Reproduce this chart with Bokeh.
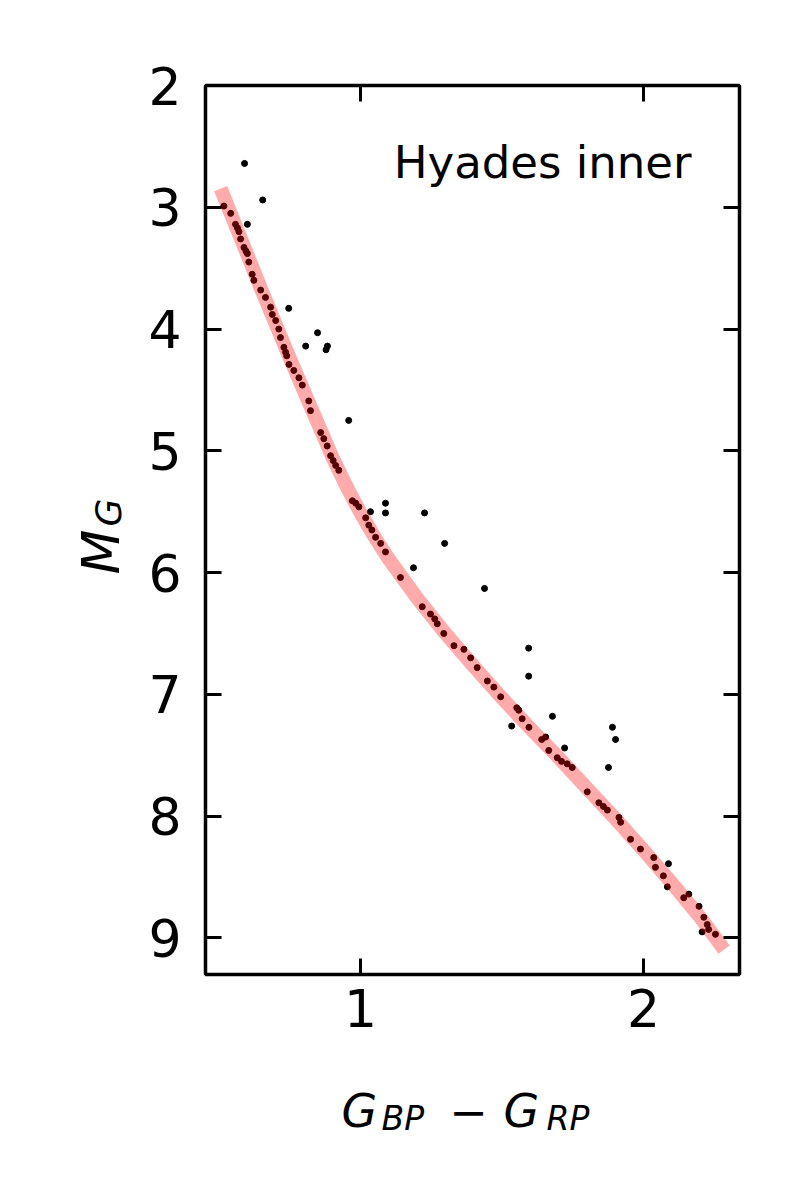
import math
from bokeh.plotting import figure
from bokeh.models import Range1d, LinearAxis, FixedTicker, Label, CustomJSTickFormatter
from bokeh.embed import file_html
from bokeh.resources import INLINE

# ---- data ----
star_x = [0.517, 0.541, 0.558, 0.565, 0.570, 0.576, 0.588, 0.595, 0.600, 0.605, 0.617, 0.623,
          0.647, 0.664, 0.682, 0.688, 0.700, 0.711, 0.717, 0.729, 0.735, 0.739, 0.747, 0.764,
          0.782, 0.794, 0.817, 0.823, 0.859, 0.870, 0.882, 0.894, 0.903, 0.912, 0.923, 0.971,
          0.983, 0.994, 1.018, 1.029, 1.040, 1.053, 1.071, 1.088, 1.141, 1.218, 1.247, 1.262,
          1.271, 1.294, 1.330, 1.365, 1.389, 1.412, 1.448, 1.471, 1.495, 1.552, 1.559, 1.571,
          1.595, 1.640, 1.654, 1.665, 1.695, 1.710, 1.730, 1.748, 1.801, 1.842, 1.858, 1.872,
          1.913, 1.919, 1.954, 1.989, 2.036, 2.042, 2.070, 2.084, 2.142, 2.160, 2.196, 2.213,
          2.225, 2.207, 2.230, 2.254,
          # stars off the sequence
          0.590, 0.654, 0.600, 0.746, 0.848, 0.806, 0.883, 0.878, 0.958, 1.088, 1.088, 1.226,
          1.297, 1.187, 1.438, 1.594, 1.594, 1.678, 1.534, 1.721, 1.890, 1.901, 1.876, 2.088,
          1.035]
star_y = [2.99, 3.05, 3.14, 3.17, 3.20, 3.26, 3.33, 3.36, 3.38, 3.45, 3.55, 3.60,
          3.68, 3.74, 3.82, 3.88, 3.93, 4.00, 4.07, 4.15, 4.19, 4.22, 4.29, 4.34,
          4.40, 4.46, 4.59, 4.67, 4.85, 4.90, 4.96, 5.04, 5.08, 5.12, 5.16, 5.41,
          5.43, 5.46, 5.55, 5.61, 5.65, 5.71, 5.76, 5.83, 6.04, 6.28, 6.34, 6.38,
          6.42, 6.50, 6.60, 6.63, 6.70, 6.78, 6.89, 6.94, 7.02, 7.11, 7.13, 7.20,
          7.27, 7.37, 7.35, 7.46, 7.52, 7.55, 7.57, 7.60, 7.80, 7.89, 7.92, 7.95,
          8.01, 8.05, 8.19, 8.27, 8.34, 8.42, 8.49, 8.58, 8.67, 8.64, 8.74, 8.83,
          8.89, 8.95, 8.93, 8.97,
          2.64, 2.94, 3.14, 3.83, 4.03, 4.14, 4.14, 4.17, 4.75, 5.43, 5.51, 5.51,
          5.76, 5.96, 6.13, 6.62, 6.85, 7.18, 7.26, 7.44, 7.27, 7.37, 7.60, 8.39,
          5.50]

seq_x = [0.515, 0.56, 0.60, 0.65, 0.70, 0.75, 0.80, 0.85, 0.90, 0.95, 1.00, 1.05, 1.10,
         1.20, 1.30, 1.40, 1.50, 1.60, 1.70, 1.80, 1.90, 2.00, 2.10, 2.20, 2.27]
seq_y = [2.90, 3.16, 3.39, 3.68, 3.96, 4.24, 4.51, 4.78, 5.05, 5.29, 5.51, 5.71, 5.89,
         6.21, 6.50, 6.77, 7.03, 7.28, 7.52, 7.77, 8.02, 8.28, 8.55, 8.83, 9.05]

x_ticks = [1, 2]
y_ticks = [2, 3, 4, 5, 6, 7, 8, 9]
panel_title = "Hyades inner"

# axes box limits
X_START, X_END = 0.452, 2.339
Y_START, Y_END = 9.30, 2.0

# canvas and where the axes box sits on it (pixels)
W, H = 789, 1188
FL, FR, FT, FB = 205, 739, 85, 974
KX = (X_END - X_START) / (FR - FL)
KY = (Y_START - Y_END) / (FB - FT)


def px_x(px):
    return X_START + (px - FL) * KX


def px_y(py):
    return Y_END + (py - FT) * KY


p = figure(width=W, height=H, output_backend="svg", toolbar_location=None,
           x_range=Range1d(px_x(0), px_x(W)), y_range=Range1d(px_y(H), px_y(0)),
           x_axis_location=None, y_axis_location=None,
           min_border=0, min_border_left=0, min_border_right=0,
           min_border_top=0, min_border_bottom=0)
p.grid.visible = False
p.outline_line_color = None
p.background_fill_color = "white"
p.border_fill_color = "white"

p.scatter(star_x, star_y, size=6, color="black")
p.line(seq_x, seq_y, line_width=14, color="red", alpha=0.33, line_cap="square")

# axes box
p.quad(left=[X_START], right=[X_END], top=[Y_END], bottom=[Y_START],
       fill_color=None, line_color="black", line_width=3.5)

TICK_FONT = "52px"
blank = CustomJSTickFormatter(code="return ''")


def make_axis(loc, ticks, bounds, standoff, labelled):
    ax = LinearAxis(fixed_location=loc, ticker=FixedTicker(ticks=ticks), bounds=bounds)
    if not labelled:
        ax.formatter = blank
    ax.axis_line_color = None
    ax.major_tick_in = 16
    ax.major_tick_out = 0
    ax.major_tick_line_width = 3
    ax.major_tick_line_color = "black"
    ax.minor_tick_line_color = None
    ax.major_label_text_font = "DejaVu Sans"
    ax.major_label_text_font_size = TICK_FONT
    ax.major_label_text_color = "black"
    ax.major_label_standoff = standoff
    return ax


p.add_layout(make_axis(Y_START, x_ticks, (X_START, X_END), 14, True), "below")
p.add_layout(make_axis(X_START, y_ticks, (Y_END, Y_START), 24, True), "left")
p.add_layout(make_axis(Y_END, x_ticks, (X_START, X_END), 0, False), "above")
p.add_layout(make_axis(X_END, y_ticks, (Y_END, Y_START), 0, False), "right")

FONT = "DejaVu Sans"


def add_text(x, y, text, size, style="normal", align="left", baseline="alphabetic", angle=0.0):
    p.add_layout(Label(x=x, y=y, text=text, text_font=FONT, text_font_size=size,
                       text_font_style=style, text_align=align, text_baseline=baseline,
                       text_color="black", angle=angle))


# panel annotation
add_text(px_x(691), px_y(162), panel_title, "45px", align="right")

# x axis label: G_BP - G_RP
add_text(px_x(341), px_y(1110), "G", "46px", style="italic")
add_text(px_x(381), px_y(1118), "BP", "33px", style="italic")
add_text(px_x(468), px_y(1110), "\u2212", "46px", align="center")
add_text(px_x(503), px_y(1110), "G", "46px", style="italic")
add_text(px_x(546), px_y(1118), "RP", "33px", style="italic")

# y axis label: M_G (rotated)
add_text(px_x(100), px_y(574), "M", "52px", style="italic", angle=math.pi / 2)
add_text(px_x(108), px_y(526), "G", "36px", style="italic", angle=math.pi / 2)

open("out.html", "w").write(file_html(p, INLINE))
